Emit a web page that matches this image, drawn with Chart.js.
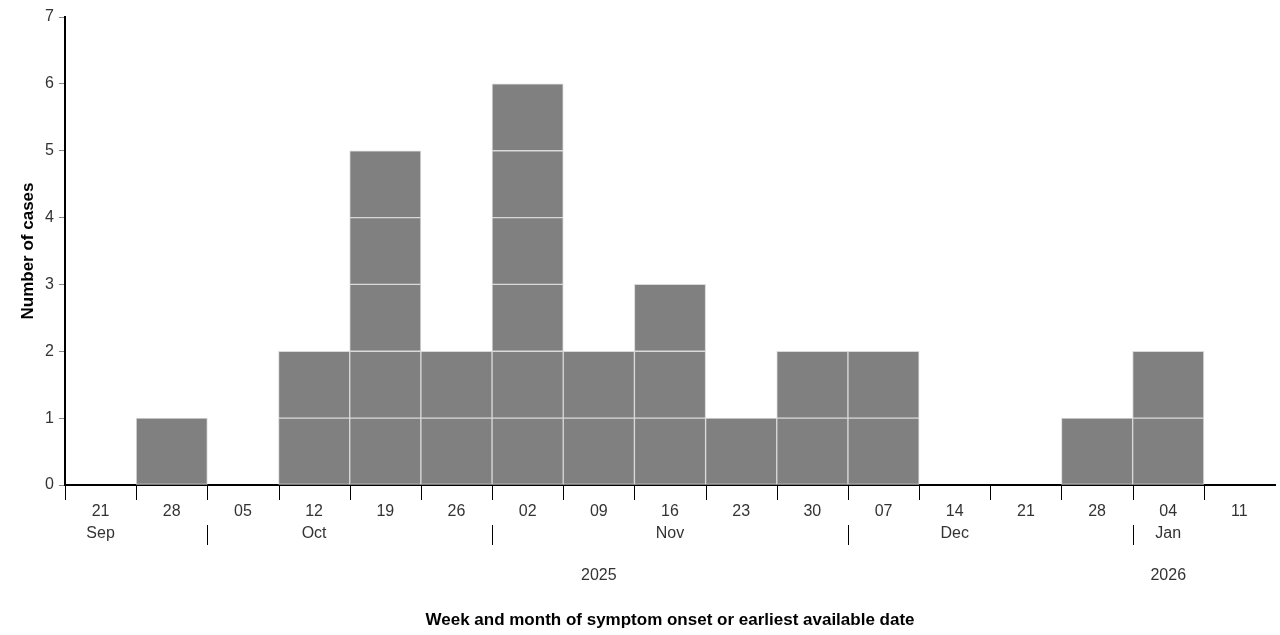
<!DOCTYPE html>
<html>
<head>
<meta charset="utf-8">
<script src="https://cdn.jsdelivr.net/npm/chart.js@4"></script>
<style>
  body { margin: 0; background: #fff; }
  #wrap { width: 1280px; height: 635px; position: relative; }
</style>
</head>
<body>
<div id="wrap"><canvas id="epiCurve"></canvas></div>
<script>
// week starting day, one per bar
var weeks = ['21','28','05','12','19','26','02','09','16','23','30','07','14','21','28','04','11'];
// month name shown under one week of each month
var monthLabels = ['Sep','','','Oct','','','','','Nov','','','','Dec','','','Jan',''];
// year shown under one week of each year
var yearLabels = ['','','','','','','','2025','','','','','','','','2026',''];
// week index where a new month starts (separator drawn at its left edge)
var monthStarts = [2, 6, 11, 15];
// number of cases per week
var cases = [0,1,0,2,5,2,6,2,3,1,2,2,0,0,1,2,0];

var FONT = "'Liberation Sans', Arial, sans-serif";

// one stacked dataset per case level, so every case is its own box
var maxCases = Math.max.apply(null, cases);
var datasets = [];
for (var k = 0; k < maxCases; k++) {
  datasets.push({
    label: 'level ' + (k + 1),
    data: cases.map(function (c) { return c > k ? 1 : null; }),
    backgroundColor: '#808080',
    borderColor: '#d9d9d9',
    borderWidth: 1,
    borderSkipped: false,
    barPercentage: 1,
    categoryPercentage: 1
  });
}

// draws x ticks, month/year rows, separators and axis titles
var axisLabels = {
  id: 'axisLabels',
  afterDraw: function (chart) {
    var ctx = chart.ctx;
    var x = chart.scales.x;
    var area = chart.chartArea;
    var w = (area.right - area.left) / weeks.length;
    var bottom = area.bottom;

    ctx.save();
    ctx.strokeStyle = '#000';
    ctx.lineWidth = 1;
    for (var i = 0; i < weeks.length; i++) {
      var edge = Math.round(area.left + i * w) + 0.5;
      ctx.beginPath();
      ctx.moveTo(edge, bottom + 1);
      ctx.lineTo(edge, bottom + 15);
      ctx.stroke();
    }
    monthStarts.forEach(function (i) {
      var edge = Math.round(area.left + i * w) + 0.5;
      ctx.beginPath();
      ctx.moveTo(edge, bottom + 40);
      ctx.lineTo(edge, bottom + 60);
      ctx.stroke();
    });

    ctx.fillStyle = '#333';
    ctx.font = '16px ' + FONT;
    ctx.textAlign = 'center';
    ctx.textBaseline = 'middle';
    for (var j = 0; j < weeks.length; j++) {
      var cx = x.getPixelForValue(j);
      ctx.fillText(weeks[j], cx, bottom + 27);
      if (monthLabels[j]) ctx.fillText(monthLabels[j], cx, bottom + 49);
      if (yearLabels[j]) ctx.fillText(yearLabels[j], cx, bottom + 91);
    }

    ctx.fillStyle = '#000';
    ctx.font = 'bold 17px ' + FONT;
    ctx.fillText('Week and month of symptom onset or earliest available date', (area.left + area.right) / 2, 620);

    ctx.translate(28, (area.top + area.bottom) / 2);
    ctx.rotate(-Math.PI / 2);
    ctx.fillText('Number of cases', 0, 0);
    ctx.restore();
  }
};

new Chart(document.getElementById('epiCurve'), {
  type: 'bar',
  data: { labels: weeks, datasets: datasets },
  options: {
    responsive: true,
    maintainAspectRatio: false,
    animation: false,
    layout: { padding: { top: 17, right: 5, left: 0, bottom: 0 } },
    plugins: {
      legend: { display: false },
      tooltip: { enabled: false }
    },
    scales: {
      x: {
        stacked: true,
        ticks: { display: false },
        grid: { display: false },
        border: { color: '#000', width: 2 },
        afterFit: function (scale) { scale.height = 150; }
      },
      y: {
        stacked: true,
        min: 0,
        max: 7,
        ticks: {
          stepSize: 1,
          padding: 5,
          color: '#333',
          font: { family: FONT, size: 16 }
        },
        grid: { drawOnChartArea: false, drawTicks: true, tickLength: 6, color: '#888' },
        border: { color: '#000', width: 2 },
        afterFit: function (scale) { scale.width = 65; }
      }
    }
  },
  plugins: [axisLabels]
});
</script>
</body>
</html>
